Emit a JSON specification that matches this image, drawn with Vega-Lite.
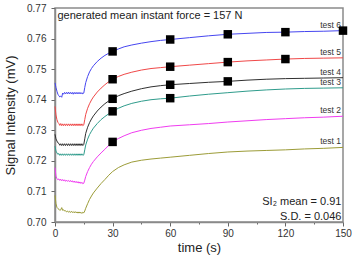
{
  "$schema": "https://vega.github.io/schema/vega-lite/v6.json",
  "width": 288,
  "height": 214,
  "autosize": {"type": "none"},
  "padding": {"left": 55, "top": 8, "right": 9, "bottom": 34},
  "config": {
    "font": "Liberation Sans",
    "view": {"stroke": "#8a8a8a", "strokeWidth": 1.5},
    "axis": {
      "domainColor": "#8a8a8a",
      "domainWidth": 1.5,
      "tickColor": "#666666",
      "tickWidth": 1,
      "grid": false,
      "labelColor": "#333333",
      "labelFont": "Liberation Sans",
      "labelFontSize": 10,
      "labelOverlap": false,
      "titleFont": "Liberation Sans",
      "titleFontSize": 13,
      "titleFontWeight": "normal",
      "titleColor": "#222222"
    }
  },
  "datasets": {
    "curves": [
      {"s":"test 6","t":0,"v":0.7455},{"s":"test 6","t":0.5,"v":0.7440},{"s":"test 6","t":1,"v":0.7428},{"s":"test 6","t":1.5,"v":0.7418},{"s":"test 6","t":2,"v":0.7413},{"s":"test 6","t":2.5,"v":0.7409},{"s":"test 6","t":3,"v":0.7412},{"s":"test 6","t":3.5,"v":0.7408},{"s":"test 6","t":4,"v":0.7422},{"s":"test 6","t":4.5,"v":0.7418},{"s":"test 6","t":5,"v":0.7424},{"s":"test 6","t":5.5,"v":0.7419},{"s":"test 6","t":6,"v":0.7424},{"s":"test 6","t":6.5,"v":0.7419},{"s":"test 6","t":7,"v":0.7425},{"s":"test 6","t":7.5,"v":0.7419},{"s":"test 6","t":8,"v":0.7424},{"s":"test 6","t":8.5,"v":0.7419},{"s":"test 6","t":9,"v":0.7424},{"s":"test 6","t":9.5,"v":0.7418},{"s":"test 6","t":10,"v":0.7424},{"s":"test 6","t":10.5,"v":0.7419},{"s":"test 6","t":11,"v":0.7424},{"s":"test 6","t":11.5,"v":0.7419},{"s":"test 6","t":12,"v":0.7424},{"s":"test 6","t":12.5,"v":0.7419},{"s":"test 6","t":13,"v":0.7424},{"s":"test 6","t":13.5,"v":0.7419},{"s":"test 6","t":14,"v":0.7423},{"s":"test 6","t":14.5,"v":0.7419},{"s":"test 6","t":15,"v":0.7422},
      {"s":"test 6","t":15.5,"v":0.7440},{"s":"test 6","t":16,"v":0.7456},{"s":"test 6","t":17,"v":0.7476},{"s":"test 6","t":18,"v":0.7491},{"s":"test 6","t":19,"v":0.7502},{"s":"test 6","t":20,"v":0.7511},{"s":"test 6","t":22,"v":0.7525},{"s":"test 6","t":24,"v":0.7536},{"s":"test 6","t":26,"v":0.7545},{"s":"test 6","t":28,"v":0.7552},{"s":"test 6","t":30,"v":0.7558},{"s":"test 6","t":33,"v":0.7566},{"s":"test 6","t":36,"v":0.7573},{"s":"test 6","t":40,"v":0.7579},{"s":"test 6","t":45,"v":0.7585},{"s":"test 6","t":50,"v":0.7590},{"s":"test 6","t":55,"v":0.7594},{"s":"test 6","t":60,"v":0.7597},{"s":"test 6","t":70,"v":0.7603},{"s":"test 6","t":80,"v":0.7609},{"s":"test 6","t":90,"v":0.7614},{"s":"test 6","t":100,"v":0.7617},{"s":"test 6","t":110,"v":0.7620},{"s":"test 6","t":120,"v":0.7621},{"s":"test 6","t":130,"v":0.7623},{"s":"test 6","t":140,"v":0.7624},{"s":"test 6","t":150,"v":0.7626},

      {"s":"test 5","t":0,"v":0.7378},{"s":"test 5","t":0.5,"v":0.7350},{"s":"test 5","t":1,"v":0.7335},{"s":"test 5","t":1.5,"v":0.7326},{"s":"test 5","t":2,"v":0.7322},{"s":"test 5","t":2.5,"v":0.7316},{"s":"test 5","t":3,"v":0.7322},{"s":"test 5","t":3.5,"v":0.7315},{"s":"test 5","t":4,"v":0.7321},{"s":"test 5","t":4.5,"v":0.7315},{"s":"test 5","t":5,"v":0.7321},{"s":"test 5","t":5.5,"v":0.7315},{"s":"test 5","t":6,"v":0.7321},{"s":"test 5","t":6.5,"v":0.7315},{"s":"test 5","t":7,"v":0.7321},{"s":"test 5","t":7.5,"v":0.7315},{"s":"test 5","t":8,"v":0.7321},{"s":"test 5","t":8.5,"v":0.7315},{"s":"test 5","t":9,"v":0.7321},{"s":"test 5","t":9.5,"v":0.7315},{"s":"test 5","t":10,"v":0.7321},{"s":"test 5","t":10.5,"v":0.7315},{"s":"test 5","t":11,"v":0.7321},{"s":"test 5","t":11.5,"v":0.7315},{"s":"test 5","t":12,"v":0.7321},{"s":"test 5","t":12.5,"v":0.7315},{"s":"test 5","t":13,"v":0.7321},{"s":"test 5","t":13.5,"v":0.7315},{"s":"test 5","t":14,"v":0.7321},{"s":"test 5","t":14.5,"v":0.7315},{"s":"test 5","t":15,"v":0.7318},
      {"s":"test 5","t":15.5,"v":0.7335},{"s":"test 5","t":16,"v":0.7352},{"s":"test 5","t":17,"v":0.7372},{"s":"test 5","t":18,"v":0.7387},{"s":"test 5","t":19,"v":0.7399},{"s":"test 5","t":20,"v":0.7409},{"s":"test 5","t":22,"v":0.7425},{"s":"test 5","t":24,"v":0.7438},{"s":"test 5","t":26,"v":0.7449},{"s":"test 5","t":28,"v":0.7459},{"s":"test 5","t":30,"v":0.7467},{"s":"test 5","t":33,"v":0.7476},{"s":"test 5","t":36,"v":0.7483},{"s":"test 5","t":40,"v":0.7490},{"s":"test 5","t":45,"v":0.7497},{"s":"test 5","t":50,"v":0.7502},{"s":"test 5","t":55,"v":0.7505},{"s":"test 5","t":60,"v":0.7508},{"s":"test 5","t":70,"v":0.7513},{"s":"test 5","t":80,"v":0.7518},{"s":"test 5","t":90,"v":0.7523},{"s":"test 5","t":100,"v":0.7527},{"s":"test 5","t":110,"v":0.7530},{"s":"test 5","t":120,"v":0.7533},{"s":"test 5","t":130,"v":0.7535},{"s":"test 5","t":140,"v":0.7536},{"s":"test 5","t":150,"v":0.7537},

      {"s":"test 4","t":0,"v":0.7287},{"s":"test 4","t":0.5,"v":0.7272},{"s":"test 4","t":1,"v":0.7265},{"s":"test 4","t":1.5,"v":0.7259},{"s":"test 4","t":2,"v":0.7257},{"s":"test 4","t":2.5,"v":0.7251},{"s":"test 4","t":3,"v":0.7256},{"s":"test 4","t":3.5,"v":0.7250},{"s":"test 4","t":4,"v":0.7256},{"s":"test 4","t":4.5,"v":0.7250},{"s":"test 4","t":5,"v":0.7256},{"s":"test 4","t":5.5,"v":0.7250},{"s":"test 4","t":6,"v":0.7256},{"s":"test 4","t":6.5,"v":0.7250},{"s":"test 4","t":7,"v":0.7256},{"s":"test 4","t":7.5,"v":0.7250},{"s":"test 4","t":8,"v":0.7256},{"s":"test 4","t":8.5,"v":0.7250},{"s":"test 4","t":9,"v":0.7256},{"s":"test 4","t":9.5,"v":0.7250},{"s":"test 4","t":10,"v":0.7256},{"s":"test 4","t":10.5,"v":0.7250},{"s":"test 4","t":11,"v":0.7256},{"s":"test 4","t":11.5,"v":0.7250},{"s":"test 4","t":12,"v":0.7256},{"s":"test 4","t":12.5,"v":0.7250},{"s":"test 4","t":13,"v":0.7256},{"s":"test 4","t":13.5,"v":0.7250},{"s":"test 4","t":14,"v":0.7256},{"s":"test 4","t":14.5,"v":0.7250},{"s":"test 4","t":15,"v":0.7254},
      {"s":"test 4","t":15.5,"v":0.7272},{"s":"test 4","t":16,"v":0.7290},{"s":"test 4","t":17,"v":0.7310},{"s":"test 4","t":18,"v":0.7325},{"s":"test 4","t":19,"v":0.7337},{"s":"test 4","t":20,"v":0.7347},{"s":"test 4","t":22,"v":0.7363},{"s":"test 4","t":24,"v":0.7376},{"s":"test 4","t":26,"v":0.7387},{"s":"test 4","t":28,"v":0.7396},{"s":"test 4","t":30,"v":0.7403},{"s":"test 4","t":33,"v":0.7413},{"s":"test 4","t":36,"v":0.7420},{"s":"test 4","t":40,"v":0.7428},{"s":"test 4","t":45,"v":0.7436},{"s":"test 4","t":50,"v":0.7442},{"s":"test 4","t":55,"v":0.7446},{"s":"test 4","t":60,"v":0.7449},{"s":"test 4","t":70,"v":0.7453},{"s":"test 4","t":80,"v":0.7457},{"s":"test 4","t":90,"v":0.7460},{"s":"test 4","t":100,"v":0.7464},{"s":"test 4","t":110,"v":0.7467},{"s":"test 4","t":120,"v":0.7469},{"s":"test 4","t":130,"v":0.7470},{"s":"test 4","t":140,"v":0.7471},{"s":"test 4","t":150,"v":0.7472},

      {"s":"test 3","t":0,"v":0.7248},{"s":"test 3","t":0.5,"v":0.7232},{"s":"test 3","t":1,"v":0.7226},{"s":"test 3","t":1.5,"v":0.7221},{"s":"test 3","t":2,"v":0.7224},{"s":"test 3","t":2.5,"v":0.7218},{"s":"test 3","t":3,"v":0.7223},{"s":"test 3","t":3.5,"v":0.7218},{"s":"test 3","t":4,"v":0.7223},{"s":"test 3","t":4.5,"v":0.7218},{"s":"test 3","t":5,"v":0.7223},{"s":"test 3","t":5.5,"v":0.7218},{"s":"test 3","t":6,"v":0.7223},{"s":"test 3","t":6.5,"v":0.7218},{"s":"test 3","t":7,"v":0.7223},{"s":"test 3","t":7.5,"v":0.7218},{"s":"test 3","t":8,"v":0.7223},{"s":"test 3","t":8.5,"v":0.7218},{"s":"test 3","t":9,"v":0.7223},{"s":"test 3","t":9.5,"v":0.7218},{"s":"test 3","t":10,"v":0.7223},{"s":"test 3","t":10.5,"v":0.7218},{"s":"test 3","t":11,"v":0.7223},{"s":"test 3","t":11.5,"v":0.7218},{"s":"test 3","t":12,"v":0.7223},{"s":"test 3","t":12.5,"v":0.7218},{"s":"test 3","t":13,"v":0.7223},{"s":"test 3","t":13.5,"v":0.7218},{"s":"test 3","t":14,"v":0.7223},{"s":"test 3","t":14.5,"v":0.7218},{"s":"test 3","t":15,"v":0.7220},
      {"s":"test 3","t":15.5,"v":0.7236},{"s":"test 3","t":16,"v":0.7252},{"s":"test 3","t":17,"v":0.7271},{"s":"test 3","t":18,"v":0.7286},{"s":"test 3","t":19,"v":0.7297},{"s":"test 3","t":20,"v":0.7307},{"s":"test 3","t":22,"v":0.7322},{"s":"test 3","t":24,"v":0.7335},{"s":"test 3","t":26,"v":0.7345},{"s":"test 3","t":28,"v":0.7354},{"s":"test 3","t":30,"v":0.7362},{"s":"test 3","t":33,"v":0.7372},{"s":"test 3","t":36,"v":0.7380},{"s":"test 3","t":40,"v":0.7388},{"s":"test 3","t":45,"v":0.7395},{"s":"test 3","t":50,"v":0.7400},{"s":"test 3","t":55,"v":0.7403},{"s":"test 3","t":60,"v":0.7405},{"s":"test 3","t":70,"v":0.7412},{"s":"test 3","t":80,"v":0.7418},{"s":"test 3","t":90,"v":0.7423},{"s":"test 3","t":100,"v":0.7428},{"s":"test 3","t":110,"v":0.7432},{"s":"test 3","t":120,"v":0.7435},{"s":"test 3","t":130,"v":0.7437},{"s":"test 3","t":140,"v":0.7438},{"s":"test 3","t":150,"v":0.7439},

      {"s":"test 2","t":0,"v":0.7178},{"s":"test 2","t":0.5,"v":0.7150},{"s":"test 2","t":1,"v":0.7142},{"s":"test 2","t":1.5,"v":0.7138},{"s":"test 2","t":2,"v":0.7141},{"s":"test 2","t":2.5,"v":0.7136},{"s":"test 2","t":3,"v":0.7140},{"s":"test 2","t":3.5,"v":0.7135},{"s":"test 2","t":4,"v":0.7139},{"s":"test 2","t":4.5,"v":0.7134},{"s":"test 2","t":5,"v":0.7138},{"s":"test 2","t":5.5,"v":0.7133},{"s":"test 2","t":6,"v":0.7137},{"s":"test 2","t":6.5,"v":0.7133},{"s":"test 2","t":7,"v":0.7136},{"s":"test 2","t":7.5,"v":0.7132},{"s":"test 2","t":8,"v":0.7136},{"s":"test 2","t":8.5,"v":0.7131},{"s":"test 2","t":9,"v":0.7135},{"s":"test 2","t":9.5,"v":0.7130},{"s":"test 2","t":10,"v":0.7134},{"s":"test 2","t":10.5,"v":0.7129},{"s":"test 2","t":11,"v":0.7133},{"s":"test 2","t":11.5,"v":0.7128},{"s":"test 2","t":12,"v":0.7132},{"s":"test 2","t":12.5,"v":0.7127},{"s":"test 2","t":13,"v":0.7131},{"s":"test 2","t":13.5,"v":0.7126},{"s":"test 2","t":14,"v":0.7130},{"s":"test 2","t":14.5,"v":0.7125},{"s":"test 2","t":15,"v":0.7127},
      {"s":"test 2","t":15.5,"v":0.7137},{"s":"test 2","t":16,"v":0.7149},{"s":"test 2","t":17,"v":0.7165},{"s":"test 2","t":18,"v":0.7178},{"s":"test 2","t":19,"v":0.7189},{"s":"test 2","t":20,"v":0.7198},{"s":"test 2","t":22,"v":0.7213},{"s":"test 2","t":24,"v":0.7226},{"s":"test 2","t":26,"v":0.7238},{"s":"test 2","t":28,"v":0.7251},{"s":"test 2","t":30,"v":0.7262},{"s":"test 2","t":33,"v":0.7273},{"s":"test 2","t":36,"v":0.7282},{"s":"test 2","t":40,"v":0.7292},{"s":"test 2","t":45,"v":0.7300},{"s":"test 2","t":50,"v":0.7306},{"s":"test 2","t":55,"v":0.7310},{"s":"test 2","t":60,"v":0.7314},{"s":"test 2","t":70,"v":0.7318},{"s":"test 2","t":80,"v":0.7322},{"s":"test 2","t":90,"v":0.7327},{"s":"test 2","t":100,"v":0.7331},{"s":"test 2","t":110,"v":0.7335},{"s":"test 2","t":120,"v":0.7338},{"s":"test 2","t":130,"v":0.7341},{"s":"test 2","t":140,"v":0.7343},{"s":"test 2","t":150,"v":0.7346},

      {"s":"test 1","t":0,"v":0.7087},{"s":"test 1","t":0.5,"v":0.7060},{"s":"test 1","t":1,"v":0.7048},{"s":"test 1","t":1.5,"v":0.7044},{"s":"test 1","t":2,"v":0.7042},{"s":"test 1","t":2.5,"v":0.7038},{"s":"test 1","t":3,"v":0.7040},{"s":"test 1","t":3.5,"v":0.7047},{"s":"test 1","t":4,"v":0.7038},{"s":"test 1","t":4.5,"v":0.7040},{"s":"test 1","t":5,"v":0.7036},{"s":"test 1","t":5.5,"v":0.7037},{"s":"test 1","t":6,"v":0.7033},{"s":"test 1","t":6.5,"v":0.7036},{"s":"test 1","t":7,"v":0.7032},{"s":"test 1","t":7.5,"v":0.7035},{"s":"test 1","t":8,"v":0.7031},{"s":"test 1","t":8.5,"v":0.7035},{"s":"test 1","t":9,"v":0.7031},{"s":"test 1","t":9.5,"v":0.7034},{"s":"test 1","t":10,"v":0.7030},{"s":"test 1","t":10.5,"v":0.7034},{"s":"test 1","t":11,"v":0.7030},{"s":"test 1","t":11.5,"v":0.7033},{"s":"test 1","t":12,"v":0.7029},{"s":"test 1","t":12.5,"v":0.7033},{"s":"test 1","t":13,"v":0.7029},{"s":"test 1","t":13.5,"v":0.7032},{"s":"test 1","t":14,"v":0.7028},{"s":"test 1","t":14.5,"v":0.7032},{"s":"test 1","t":15,"v":0.7030},
      {"s":"test 1","t":15.5,"v":0.7036},{"s":"test 1","t":16,"v":0.7045},{"s":"test 1","t":17,"v":0.7060},{"s":"test 1","t":18,"v":0.7074},{"s":"test 1","t":19,"v":0.7085},{"s":"test 1","t":20,"v":0.7095},{"s":"test 1","t":22,"v":0.7111},{"s":"test 1","t":24,"v":0.7126},{"s":"test 1","t":26,"v":0.7139},{"s":"test 1","t":28,"v":0.7153},{"s":"test 1","t":30,"v":0.7165},{"s":"test 1","t":33,"v":0.7178},{"s":"test 1","t":36,"v":0.7187},{"s":"test 1","t":40,"v":0.7196},{"s":"test 1","t":45,"v":0.7202},{"s":"test 1","t":50,"v":0.7206},{"s":"test 1","t":55,"v":0.7209},{"s":"test 1","t":60,"v":0.7212},{"s":"test 1","t":70,"v":0.7218},{"s":"test 1","t":80,"v":0.7224},{"s":"test 1","t":90,"v":0.7229},{"s":"test 1","t":100,"v":0.7232},{"s":"test 1","t":110,"v":0.7234},{"s":"test 1","t":120,"v":0.7236},{"s":"test 1","t":130,"v":0.7239},{"s":"test 1","t":140,"v":0.7241},{"s":"test 1","t":150,"v":0.7244}
    ],
    "markers": [
      {"s":"test 6","t":30,"v":0.7558},{"s":"test 6","t":60,"v":0.7597},{"s":"test 6","t":90,"v":0.7614},{"s":"test 6","t":120,"v":0.7621},{"s":"test 6","t":150,"v":0.7626},
      {"s":"test 5","t":30,"v":0.7467},{"s":"test 5","t":60,"v":0.7508},{"s":"test 5","t":90,"v":0.7523},{"s":"test 5","t":120,"v":0.7533},
      {"s":"test 4","t":30,"v":0.7403},{"s":"test 4","t":60,"v":0.7449},{"s":"test 4","t":90,"v":0.7460},
      {"s":"test 3","t":30,"v":0.7362},{"s":"test 3","t":60,"v":0.7405},
      {"s":"test 2","t":30,"v":0.7262}
    ]
  },
  "layer": [
    {
      "data": {"name": "curves"},
      "mark": {"type": "line", "strokeWidth": 1, "interpolate": "linear"},
      "encoding": {
        "x": {
          "field": "t", "type": "quantitative",
          "scale": {"domain": [0, 150], "nice": false, "zero": false},
          "axis": {
            "title": "time (s)",
            "values": [0, 15, 30, 45, 60, 75, 90, 105, 120, 135, 150],
            "tickCount": 11,
            "labelExpr": "datum.value % 30 === 0 ? datum.label : ''",
            "tickSize": {"condition": {"test": "datum.value % 30 === 0", "value": 4}, "value": 2},
            "labelOverlap": false,
            "labelPadding": 2,
            "titlePadding": 3,
            "labelFlush": false
          }
        },
        "y": {
          "field": "v", "type": "quantitative",
          "scale": {"domain": [0.70, 0.77], "nice": false, "zero": false},
          "axis": {
            "title": "Signal Intensity (mV)",
            "values": [0.70, 0.71, 0.72, 0.73, 0.74, 0.75, 0.76, 0.77],
            "tickCount": 8,
            "format": ".2f",
            "tickSize": 4,
            "labelOverlap": false,
            "labelBound": false,
            "labelPadding": 5,
            "titlePadding": 9,
            "labelFlush": false
          }
        },
        "color": {
          "field": "s", "type": "nominal",
          "scale": {
            "domain": ["test 1", "test 2", "test 3", "test 4", "test 5", "test 6"],
            "range": ["#9c9c38", "#f03cf0", "#2f9c8c", "#303030", "#f04848", "#4646f0"]
          },
          "legend": null
        }
      }
    },
    {
      "data": {"name": "curves"},
      "transform": [{"filter": "datum.t === 150"}],
      "mark": {"type": "text", "align": "right", "baseline": "alphabetic", "dx": -2, "dy": -3, "fontSize": 8.5, "color": "#333333"},
      "encoding": {
        "x": {"field": "t", "type": "quantitative"},
        "y": {"field": "v", "type": "quantitative"},
        "text": {"field": "s"}
      }
    },
    {
      "data": {"name": "markers"},
      "mark": {"type": "square", "size": 72, "color": "#000000", "opacity": 1, "filled": true},
      "encoding": {
        "x": {"field": "t", "type": "quantitative"},
        "y": {"field": "v", "type": "quantitative"}
      }
    },
    {
      "data": {"values": [{}]},
      "mark": {"type": "text", "text": "generated mean instant force = 157 N", "align": "left", "baseline": "middle", "fontSize": 11, "color": "#222222"},
      "encoding": {
        "x": {"datum": 1.3, "type": "quantitative"},
        "y": {"datum": 0.7674, "type": "quantitative"}
      }
    },
    {
      "data": {"values": [{}]},
      "mark": {"type": "text", "text": ["SI₂ mean = 0.91", "S.D. = 0.046"], "align": "right", "baseline": "alphabetic", "lineHeight": 14.5, "fontSize": 11, "color": "#222222"},
      "encoding": {
        "x": {"datum": 149.2, "type": "quantitative"},
        "y": {"datum": 0.70556, "type": "quantitative"}
      }
    }
  ]
}
